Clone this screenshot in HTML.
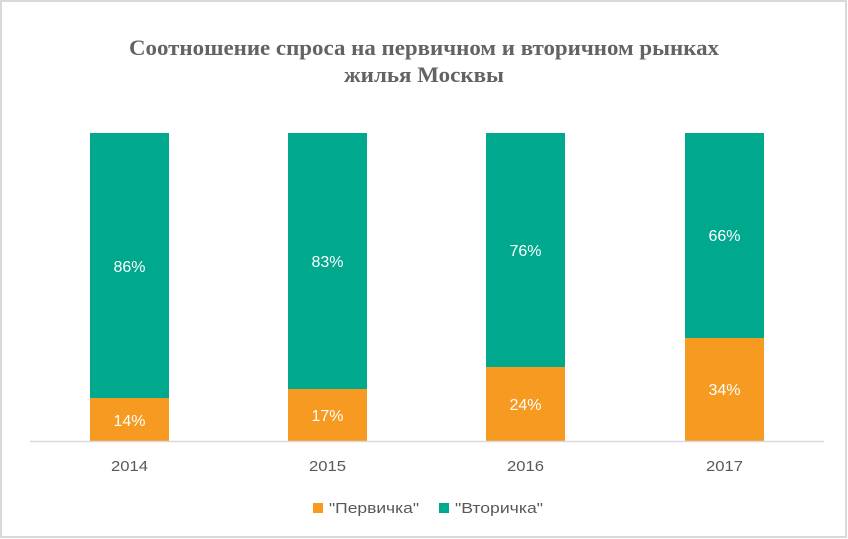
<!DOCTYPE html>
<html><head><meta charset="utf-8"><style>
html,body{margin:0;padding:0;background:#fff;}
svg{display:block;}
</style></head><body>
<svg width="848" height="539" viewBox="0 0 848 539" xmlns="http://www.w3.org/2000/svg">
<rect x="0" y="0" width="848" height="539" fill="#fff"/>
<rect x="1" y="1" width="845" height="536" fill="none" stroke="#d9d9d9" stroke-width="2"/>
<g font-family="'Liberation Serif', serif" font-weight="bold" font-size="22" fill="#636363" text-anchor="middle">
<text x="424" y="55" textLength="590" lengthAdjust="spacingAndGlyphs">Соотношение спроса на первичном и вторичном рынках</text>
<text x="424" y="82" textLength="160" lengthAdjust="spacingAndGlyphs">жилья Москвы</text>
</g>
<g>
<rect x="90" y="133" width="79" height="265" fill="#00A88E"/>
<rect x="90" y="398" width="79" height="43" fill="#F69A22"/>
<rect x="288" y="133" width="79" height="256" fill="#00A88E"/>
<rect x="288" y="389" width="79" height="52" fill="#F69A22"/>
<rect x="486" y="133" width="79" height="234" fill="#00A88E"/>
<rect x="486" y="367" width="79" height="74" fill="#F69A22"/>
<rect x="685" y="133" width="79" height="205" fill="#00A88E"/>
<rect x="685" y="338" width="79" height="103" fill="#F69A22"/>
</g>
<line x1="30" y1="441.5" x2="824" y2="441.5" stroke="#d9d9d9" stroke-width="1.5"/>
<g font-family="'Liberation Sans', sans-serif" font-size="16" fill="#ffffff" text-anchor="middle">
<text x="129.5" y="272">86%</text>
<text x="129.5" y="426">14%</text>
<text x="327.5" y="267">83%</text>
<text x="327.5" y="421">17%</text>
<text x="525.5" y="256">76%</text>
<text x="525.5" y="410">24%</text>
<text x="724.5" y="241">66%</text>
<text x="724.5" y="395">34%</text>
</g>
<g font-family="'Liberation Sans', sans-serif" font-size="15" fill="#595959" text-anchor="middle">
<text x="129.5" y="471" textLength="37" lengthAdjust="spacingAndGlyphs">2014</text>
<text x="327.5" y="471" textLength="37" lengthAdjust="spacingAndGlyphs">2015</text>
<text x="525.5" y="471" textLength="37" lengthAdjust="spacingAndGlyphs">2016</text>
<text x="724.5" y="471" textLength="37" lengthAdjust="spacingAndGlyphs">2017</text>
</g>
<rect x="313" y="503" width="10" height="10" fill="#F69A22"/>
<rect x="439" y="503" width="10" height="10" fill="#00A88E"/>
<g font-family="'Liberation Sans', sans-serif" font-size="15" fill="#595959">
<text x="329" y="513" textLength="90" lengthAdjust="spacingAndGlyphs">"Первичка"</text>
<text x="455" y="513" textLength="88" lengthAdjust="spacingAndGlyphs">"Вторичка"</text>
</g>
</svg>
</body></html>
